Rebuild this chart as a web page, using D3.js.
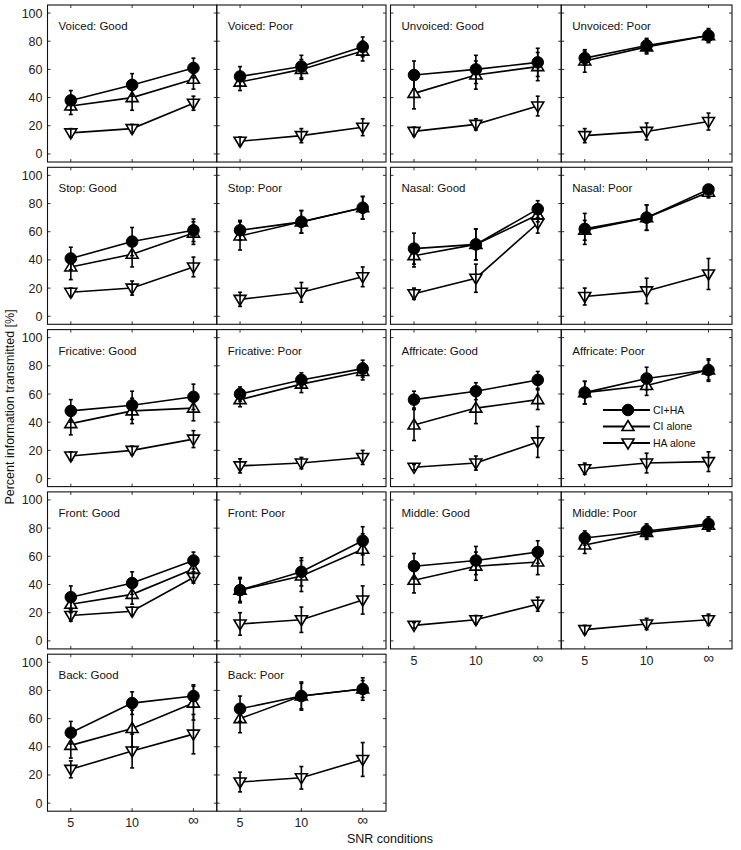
<!DOCTYPE html>
<html>
<head>
<meta charset="utf-8">
<script src="https://cdn.jsdelivr.net/npm/d3@7"></script>
<style>
  html, body { margin: 0; padding: 0; background: #fff; }
  svg { display: block; font-family: "Liberation Sans", Arial, sans-serif; }
</style>
</head>
<body>
<svg id="chart" width="741" height="850"></svg>
<script>
// ---------------- DATA ----------------
const snrLabels = ["5", "10", "\u221E"];
const features = ["Voiced", "Unvoiced", "Stop", "Nasal", "Fricative", "Affricate", "Front", "Middle", "Back"];
const conditions = ["Good", "Poor"];
const seriesNames = ["CI+HA", "CI alone", "HA alone"];
const yTicks = [0, 20, 40, 60, 80, 100];

// panel order: feature × condition (Voiced Good, Voiced Poor, Unvoiced Good, ...)
const cihaMean = [
  [38, 49, 61], [55, 62, 76], [56, 60, 65], [68, 77, 84],
  [41, 53, 61], [61, 67, 77], [48, 51, 76], [62, 70, 90],
  [48, 52, 58], [60, 70, 78], [56, 62, 70], [61, 71, 77],
  [31, 41, 57], [36, 49, 71], [53, 57, 63], [73, 78, 83],
  [50, 71, 76], [67, 76, 81]
];
const cihaErr = [
  [7, 8, 7], [7, 8, 7], [10, 10, 10], [5, 5, 5],
  [8, 10, 8], [7, 8, 8], [11, 11, 6], [11, 9, 3],
  [8, 10, 9], [5, 5, 6], [6, 6, 6], [8, 8, 8],
  [8, 8, 6], [9, 10, 10], [9, 10, 8], [5, 5, 5],
  [8, 8, 8], [9, 10, 8]
];
const ciMean = [
  [34, 40, 53], [51, 60, 73], [43, 56, 62], [66, 76, 84],
  [35, 44, 59], [57, 67, 77], [43, 51, 72], [61, 70, 88],
  [39, 48, 50], [56, 67, 76], [38, 50, 56], [61, 66, 77],
  [26, 33, 51], [36, 46, 65], [43, 53, 56], [68, 77, 82],
  [41, 53, 71], [60, 76, 81]
];
const ciErr = [
  [6, 9, 7], [6, 7, 7], [11, 10, 10], [8, 5, 4],
  [9, 9, 8], [10, 8, 8], [8, 11, 5], [7, 9, 4],
  [8, 9, 9], [5, 6, 6], [11, 11, 7], [8, 7, 7],
  [6, 7, 6], [8, 11, 11], [9, 10, 9], [6, 5, 4],
  [9, 13, 12], [10, 9, 6]
];
const haMean = [
  [15, 18, 36], [9, 13, 19], [16, 21, 34], [13, 16, 23],
  [17, 20, 35], [12, 17, 28], [16, 27, 66], [14, 18, 30],
  [16, 20, 28], [9, 11, 15], [8, 11, 26], [7, 11, 12],
  [18, 21, 45], [12, 15, 29], [11, 15, 26], [8, 12, 15],
  [24, 37, 49], [15, 18, 31]
];
const haErr = [
  [3, 3, 5], [3, 5, 6], [3, 4, 7], [5, 6, 6],
  [3, 5, 7], [5, 7, 7], [4, 10, 7], [6, 9, 11],
  [3, 3, 6], [5, 4, 5], [2, 5, 11], [4, 7, 7],
  [4, 3, 4], [8, 9, 10], [2, 3, 5], [3, 4, 4],
  [6, 12, 14], [7, 8, 12]
];

// ---------------- LAYOUT ----------------
const svg = d3.select("#chart");
const blockX = [47.5, 390.5];
const blockW = [338.5, 341.5];
const rowTop0 = 5, rowStep = 162.3, panelH = 157;

const y = d3.scaleLinear().domain([-5.7, 105.7]).range([panelH, 0]);

const triUp = "M0,-6L6,4L-6,4Z";
const triDown = "M0,6L6,-4L-6,-4Z";

const series = [
  { name: seriesNames[2], mean: haMean, err: haErr, shape: "down" },
  { name: seriesNames[1], mean: ciMean, err: ciErr, shape: "up" },
  { name: seriesNames[0], mean: cihaMean, err: cihaErr, shape: "circle" }
];

function drawMarker(g, shape, x0, y0) {
  if (shape === "circle") {
    g.append("circle").attr("cx", x0).attr("cy", y0).attr("r", 5.8)
      .attr("fill", "#000").attr("stroke", "#000").attr("stroke-width", 1);
  } else {
    g.append("path").attr("d", shape === "up" ? triUp : triDown)
      .attr("transform", `translate(${x0},${y0})`)
      .attr("fill", "#fff").attr("stroke", "#000").attr("stroke-width", 1.6);
  }
}

features.forEach((feat, f) => {
  const row = Math.floor(f / 2), block = f % 2;
  const top = rowTop0 + row * rowStep;
  const pw = blockW[block] / 2;
  conditions.forEach((cond, c) => {
    const idx = f * 2 + c;
    const left = blockX[block] + c * pw;
    const g = svg.append("g").attr("transform", `translate(${left},${top})`);
    const x = d3.scalePoint().domain(snrLabels).range([0, pw]).padding(0.38);

    // inward ticks on all four sides
    const tl = 3;
    const tg = g.append("g").attr("stroke", "#333").attr("stroke-width", 1);
    yTicks.forEach(t => {
      tg.append("line").attr("x1", 0).attr("x2", tl).attr("y1", y(t)).attr("y2", y(t));
      tg.append("line").attr("x1", pw).attr("x2", pw - tl).attr("y1", y(t)).attr("y2", y(t));
    });
    snrLabels.forEach(s => {
      tg.append("line").attr("x1", x(s)).attr("x2", x(s)).attr("y1", 0).attr("y2", tl);
      tg.append("line").attr("x1", x(s)).attr("x2", x(s)).attr("y1", panelH).attr("y2", panelH - tl);
    });

    // frame
    g.append("rect").attr("x", 0).attr("y", 0).attr("width", pw).attr("height", panelH)
      .attr("fill", "none").attr("stroke", "#111").attr("stroke-width", 1.1);

    // y tick labels on left block, first panel
    if (block === 0 && c === 0) {
      yTicks.forEach(t => {
        g.append("text").attr("x", -5).attr("y", y(t)).attr("dy", "0.36em")
          .attr("text-anchor", "end").attr("font-size", 12.5).attr("fill", "#222").text(t);
      });
    }
    // x tick labels on bottom-most panels
    const isBottom = (block === 0 && row === 4) || (block === 1 && row === 3);
    if (isBottom) {
      snrLabels.forEach((s, i) => {
        g.append("text").attr("x", x(s)).attr("y", panelH + (i === 2 ? 14 : 16))
          .attr("text-anchor", "middle").attr("font-size", i === 2 ? 15 : 12.5)
          .attr("fill", "#222").text(s);
      });
    }

    // title
    g.append("text").attr("x", 11).attr("y", 25).attr("font-size", 11.5).attr("fill", "#111")
      .text(`${feat}: ${cond}`);

    // connecting lines
    series.forEach(s => {
      const vals = s.mean[idx];
      const line = d3.line().x((d, i) => x(snrLabels[i])).y(d => y(d));
      g.append("path").datum(vals).attr("d", line)
        .attr("fill", "none").attr("stroke", "#000").attr("stroke-width", 1.6);
    });
    // markers
    series.forEach(s => {
      const vals = s.mean[idx];
      vals.forEach((v, i) => drawMarker(g, s.shape, x(snrLabels[i]), y(v)));
    });
    // error bars (drawn over the markers, as in the original)
    series.forEach(s => {
      const vals = s.mean[idx], errs = s.err[idx];
      vals.forEach((v, i) => {
        const cx = x(snrLabels[i]);
        const eg = g.append("g").attr("stroke", "#000").attr("stroke-width", 1.6);
        eg.append("line").attr("x1", cx).attr("x2", cx).attr("y1", y(v - errs[i])).attr("y2", y(v + errs[i]));
        eg.append("line").attr("x1", cx - 2).attr("x2", cx + 2).attr("y1", y(v - errs[i])).attr("y2", y(v - errs[i]));
        eg.append("line").attr("x1", cx - 2).attr("x2", cx + 2).attr("y1", y(v + errs[i])).attr("y2", y(v + errs[i]));
      });
    });
  });
});

// legend (inside Affricate: Poor panel)
const legend = svg.append("g").attr("transform", "translate(603,410)");
[{ n: seriesNames[0], s: "circle" }, { n: seriesNames[1], s: "up" }, { n: seriesNames[2], s: "down" }]
  .forEach((d, i) => {
    const ly = i * 16.5;
    legend.append("line").attr("x1", 0).attr("x2", 47).attr("y1", ly).attr("y2", ly)
      .attr("stroke", "#000").attr("stroke-width", 2);
    drawMarker(legend, d.s, 25, ly);
    legend.append("text").attr("x", 50).attr("y", ly).attr("dy", "0.36em")
      .attr("font-size", 10.5).attr("fill", "#111").text(d.n);
  });

// axis titles
svg.append("text").attr("transform", "translate(14,407) rotate(-90)")
  .attr("text-anchor", "middle").attr("font-size", 12.5).attr("fill", "#111")
  .text("Percent information transmitted [%]");
svg.append("text").attr("x", 390).attr("y", 843).attr("text-anchor", "middle")
  .attr("font-size", 12.5).attr("fill", "#111").text("SNR conditions");
</script>
</body>
</html>
